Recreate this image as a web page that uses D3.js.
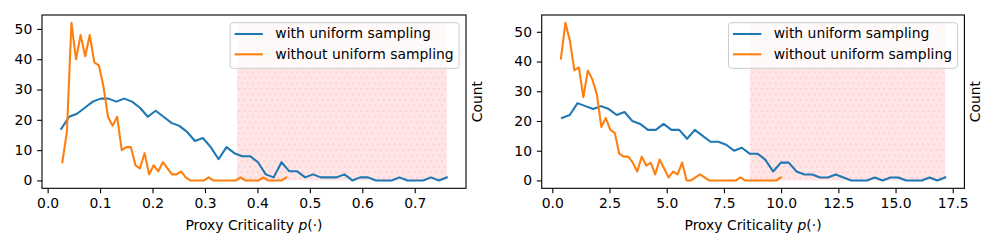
<!DOCTYPE html>
<html>
<head>
<meta charset="utf-8">
<script src="https://cdn.jsdelivr.net/npm/d3@7"></script>
<style>
body { margin: 0; background: #fff; }
text { font-family: "DejaVu Sans", sans-serif; fill: #000; }
</style>
</head>
<body>
<svg width="1000" height="250"></svg>
<script>
// counts per histogram bin (50 bins each)
var leftWith    = [17,21,22,24,26,27,27,26,27,26, 24,21,23,21,19,18,16,13,14,11, 7,11,9,8,8,6,2,1,6,3, 3,1,2,1,1,1,2,0,1,1, 0,0,0,1,0,0,0,1,0,1];
var leftWithout = [6,16,52,40,48,41,48,39,38,31, 21,18,21,10,11,11,5,4,9,2, 5,3,6,4,2,2,3,1,0,0, 0,0,1,0,0,0,0,0,0,1, 0,0,0,0,1,0,0,0,0,1];
var rightWith    = [21,22,26,25,24,25,24,22,23,20, 19,17,17,19,17,17,14,17,15,13, 13,12,10,11,9,9,7,3,6,6, 3,2,2,1,1,2,1,0,0,0, 1,0,1,1,0,0,0,1,0,1];
var rightWithout = [41,53,47,37,38,28,37,34,29,18, 21,17,16,9,8,8,6,3,8,5, 6,2,7,4,1,3,2,6,0,0, 1,2,1,0,0,0,0,0,0,0, 1,0,0,0,0,0,0,0,0,1];

// first and last bin centre of each series
var leftWithRange = [0.026, 0.761];
var leftWithoutRange = [0.028, 0.455];
var rightWithRange = [0.42, 17.17];
var rightWithoutRange = [0.376, 9.99];

// shaded span [from, to]
var leftSpan = [0.361, 0.761];
var rightSpan = [8.64, 17.17];

var leftXTicks = [0, 0.1, 0.2, 0.3, 0.4, 0.5, 0.6, 0.7];
var rightXTicks = [0, 2.5, 5, 7.5, 10, 12.5, 15, 17.5];
var yTicks = [0, 10, 20, 30, 40, 50];
var seriesNames = ["with uniform sampling", "without uniform sampling"];
var colors = ["#1f77b4", "#ff7f0e"];

var plotTop = 15, plotBottom = 188.3;
var fontSize = 13.9;
var tickLen = 4.86;

var svg = d3.select("svg");

// dotted hatch for the shaded span
var pat = svg.append("defs").append("pattern")
    .attr("id", "dots")
    .attr("patternUnits", "userSpaceOnUse")
    .attr("width", 5.56)
    .attr("height", 11.11);
pat.append("rect").attr("width", 5.56).attr("height", 11.11).attr("fill", "#ff0000").attr("fill-opacity", 0.1);
[[0, 0], [5.56, 0], [0, 11.11], [5.56, 11.11], [2.78, 5.56]].forEach(function(p) {
    pat.append("circle").attr("cx", p[0]).attr("cy", p[1]).attr("r", 0.95)
        .attr("fill", "#ff0000").attr("fill-opacity", 0.12);
});

function binCentres(counts, range) {
    var step = (range[1] - range[0]) / (counts.length - 1);
    return counts.map(function(c, i) { return [range[0] + i * step, c]; });
}

function drawPanel(left, right, series, span, xTicks) {
    var pts = series.map(function(s) { return binCentres(s.counts, s.range); });
    var all = [].concat.apply([], pts);
    var xmin = d3.min(all, function(d) { return d[0]; });
    var xmax = d3.max(all, function(d) { return d[0]; });
    var ymax = d3.max(all, function(d) { return d[1]; });
    var xpad = (xmax - xmin) * 0.05, ypad = ymax * 0.05;

    var x = d3.scaleLinear().domain([xmin - xpad, xmax + xpad]).range([left, right]);
    var y = d3.scaleLinear().domain([-ypad, ymax + ypad]).range([plotBottom, plotTop]);

    var g = svg.append("g");

    // shaded span, from 0 up to the highest count
    g.append("rect")
        .attr("x", x(span[0]))
        .attr("y", y(ymax))
        .attr("width", x(span[1]) - x(span[0]))
        .attr("height", y(0) - y(ymax))
        .attr("fill", "url(#dots)");

    var line = d3.line()
        .x(function(d) { return x(d[0]); })
        .y(function(d) { return y(d[1]); });

    pts.forEach(function(p, i) {
        g.append("path")
            .datum(p)
            .attr("d", line)
            .attr("fill", "none")
            .attr("stroke", colors[i])
            .attr("stroke-width", 2.08)
            .attr("stroke-linejoin", "round")
            .attr("stroke-linecap", "square");
    });

    // axes
    var xAxis = g.append("g")
        .attr("transform", "translate(0," + plotBottom + ")")
        .call(d3.axisBottom(x).tickValues(xTicks).tickFormat(d3.format(".1f"))
            .tickSize(tickLen).tickPadding(4.86));
    var yAxis = g.append("g")
        .attr("transform", "translate(" + left + ",0)")
        .call(d3.axisLeft(y).tickValues(yTicks).tickFormat(d3.format("d"))
            .tickSize(tickLen).tickPadding(4.86));
    [xAxis, yAxis].forEach(function(a) {
        a.select(".domain").remove();
        a.attr("font-family", null).attr("font-size", null);
        a.selectAll("line").attr("stroke", "#000").attr("stroke-width", 1.1);
        a.selectAll("text").style("font-size", fontSize + "px").attr("fill", "#000");
    });

    // frame
    g.append("rect")
        .attr("x", left).attr("y", plotTop)
        .attr("width", right - left).attr("height", plotBottom - plotTop)
        .attr("fill", "none").attr("stroke", "#000").attr("stroke-width", 1.1);

    // x label
    var xl = g.append("text")
        .attr("x", (left + right) / 2)
        .attr("y", 229.5)
        .attr("text-anchor", "middle")
        .style("font-size", fontSize + "px");
    xl.append("tspan").text("Proxy Criticality ");
    xl.append("tspan").style("font-style", "italic").text("p");
    xl.append("tspan").text("(\u00b7)");

    // right side label
    g.append("text")
        .attr("transform", "translate(" + (right + 15.7) + "," + ((plotTop + plotBottom) / 2) + ") rotate(-90)")
        .attr("text-anchor", "middle")
        .style("font-size", fontSize + "px")
        .text("Count");

    // legend
    var lw = 229, lh = 45.6;
    var lx = right - 6.9 - lw, ly = 22.7;
    var leg = g.append("g").attr("transform", "translate(" + lx + "," + ly + ")");
    leg.append("rect")
        .attr("width", lw).attr("height", lh).attr("rx", 3)
        .attr("fill", "#fff").attr("fill-opacity", 0.8)
        .attr("stroke", "#cccccc").attr("stroke-width", 1);
    seriesNames.forEach(function(name, i) {
        var cy = 11.3 + i * 20.3;
        leg.append("line")
            .attr("x1", 4.5).attr("x2", 32.8)
            .attr("y1", cy).attr("y2", cy)
            .attr("stroke", colors[i]).attr("stroke-width", 2.08);
        leg.append("text")
            .attr("x", 45.2).attr("y", cy + 4.4)
            .style("font-size", fontSize + "px")
            .text(name);
    });
}

drawPanel(42, 466,
    [{counts: leftWith, range: leftWithRange}, {counts: leftWithout, range: leftWithoutRange}],
    leftSpan, leftXTicks);
drawPanel(541.7, 964.4,
    [{counts: rightWith, range: rightWithRange}, {counts: rightWithout, range: rightWithoutRange}],
    rightSpan, rightXTicks);
</script>
</body>
</html>
